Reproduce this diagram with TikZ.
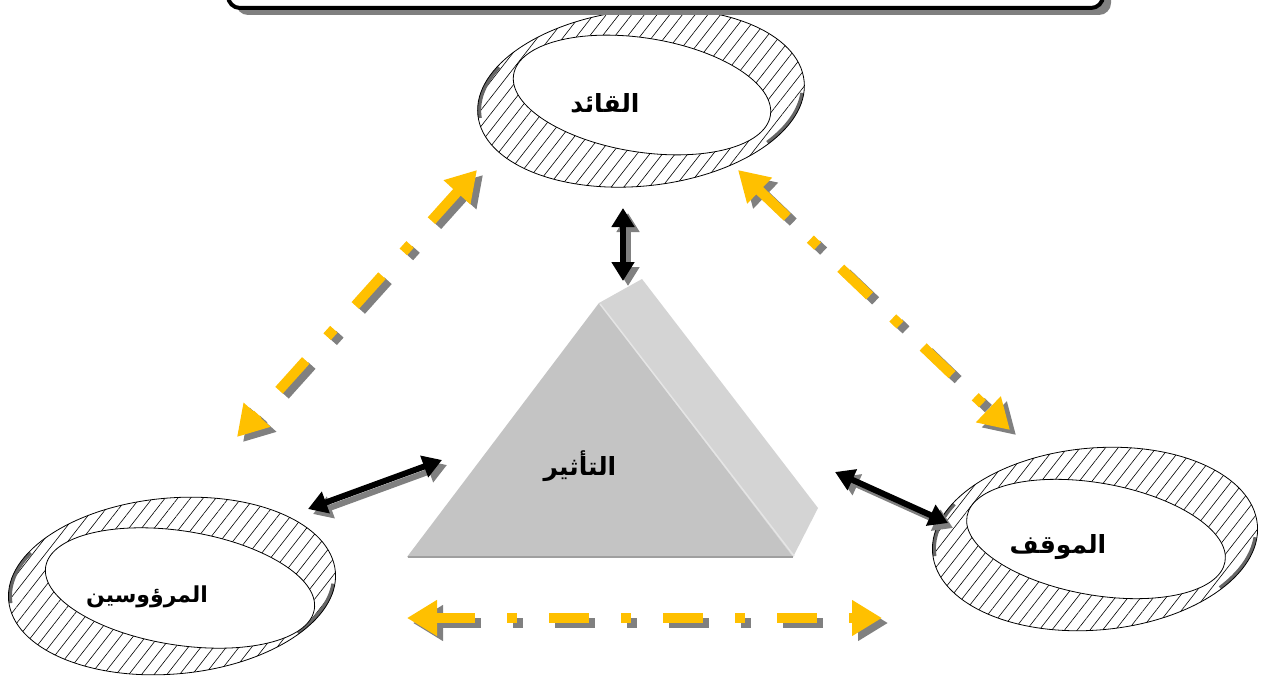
\documentclass[tikz,border=0pt]{standalone}
\usepackage{fontspec}
\usetikzlibrary{arrows.meta,patterns.meta,calc}
\TeXXeTstate=1
\newfontfamily\arabicfont[Script=Arabic]{DejaVu Sans}
\definecolor{gold}{HTML}{FFC000}
\definecolor{shadowgray}{HTML}{808080}
\definecolor{frontgray}{HTML}{C4C4C4}
\definecolor{sidegray}{HTML}{D4D4D4}
\tikzset{
  yline/.style={line width=10pt, dash pattern=on 40pt off 32pt on 10pt off 32pt,
    {Triangle[length=30pt,width=34pt]}-{Triangle[length=30pt,width=34pt]}},
  bline/.style={line width=6pt,
    {Triangle[length=19pt,width=22pt]}-{Triangle[length=19pt,width=22pt]}},
  shadowed/.style={transform canvas={shift={(#1)}}},
  lbl/.style={font=\arabicfont\bfseries\fontsize{25}{28}\selectfont, inner sep=0pt},
  hatch/.style={pattern={Lines[angle=52,distance=10pt,line width=0.6pt]}},
  ringline/.style={draw=black, line width=0.8pt},
  pinch/.style={draw=black!60, line width=7pt},
}
% #1 center, #2 outer xr, #3 outer yr, #4 outer rot, #5 inner center, #6 inner xr, #7 inner yr, #8 inner rot
\newcommand\hatchring[8]{%
  \fill[hatch, rotate around={#4:#1}] #1 ellipse[x radius=#2, y radius=#3];
  \begin{scope}
    \clip[rotate around={#4:#1}] #1 ellipse[x radius=#2, y radius=#3];
    \draw[pinch, rotate around={#4:#1}] #1 ++(148:#2 and #3) arc[start angle=148, end angle=182, x radius=#2, y radius=#3];
    \draw[pinch, rotate around={#4:#1}] #1 ++(-42:#2 and #3) arc[start angle=-42, end angle=-8, x radius=#2, y radius=#3];
  \end{scope}
  \draw[ringline, rotate around={#4:#1}] #1 ellipse[x radius=#2, y radius=#3];
  \fill[white, rotate around={#8:#5}] #5 ellipse[x radius=#6, y radius=#7];
  \draw[ringline, rotate around={#8:#5}] #5 ellipse[x radius=#6, y radius=#7];
}
\begin{document}
\begin{tikzpicture}[x=1pt,y=-1pt]
\useasboundingbox (0,0) rectangle (1261,677);
\fill[white] (0,0) rectangle (1261,677);

% prism
\fill[sidegray] (599,303) -- (642,279) -- (818,508) -- (793,557) -- cycle;
\fill[frontgray] (599,303) -- (407,557) -- (793,557) -- cycle;
\draw[white!80!gray, line width=1.5pt] (600,304) -- (794,556);
\draw[gray!75, line width=2pt] (408,557) -- (793,557);
\node[lbl] (infl) at (580,466) {\beginR التأثير\endR};

% rings
\hatchring{(641,98)}{164pt}{88pt}{6}{(642,95)}{130pt}{57pt}{-9}
\node[lbl] (leader) at (605,103) {\beginR القائد\endR};

\hatchring{(172,586)}{164pt}{88pt}{5}{(180,588)}{136pt}{57pt}{-9}
\node[lbl, font=\arabicfont\bfseries\fontsize{22}{26}\selectfont] (subs) at (147,597) {\beginR المرؤوسين\endR};

\hatchring{(1095,539)}{163pt}{91pt}{5}{(1096,539)}{131pt}{56pt}{-10}
\node[lbl] (sit) at (1058,547) {\beginR الموقف\endR};

% arrow end points
\coordinate (v1) at (623,208); \coordinate (v2) at (623,281);
\coordinate (l1) at (308,509); \coordinate (l2) at (442,460);
\coordinate (r1) at (835,472); \coordinate (r2) at (948,523);
\coordinate (ld1) at (477,170); \coordinate (ld2) at (237,437);
\coordinate (rd1) at (738,170); \coordinate (rd2) at (1010,430);
\coordinate (h1) at (407,618); \coordinate (h2) at (882,618);

% black arrows
\foreach \a/\b in {v1/v2, l1/l2, r1/r2}{
  \draw[bline, shadowgray, shadowed={5pt,-5pt}] (\a) -- (\b);
  \draw[bline, black] (\a) -- (\b);
}
% yellow arrows
\foreach \a/\b in {ld1/ld2, rd1/rd2, h1/h2}{
  \draw[yline, shadowgray, shadowed={6pt,-5pt}] (\a) -- (\b);
  \draw[yline, gold] (\a) -- (\b);
}

% top box
\fill[shadowgray, rounded corners=12pt] (236,-30) rectangle (1111,15);
\draw[line width=4pt, fill=white, rounded corners=12pt] (228,-36) rectangle (1103,8);
\end{tikzpicture}
\end{document}
